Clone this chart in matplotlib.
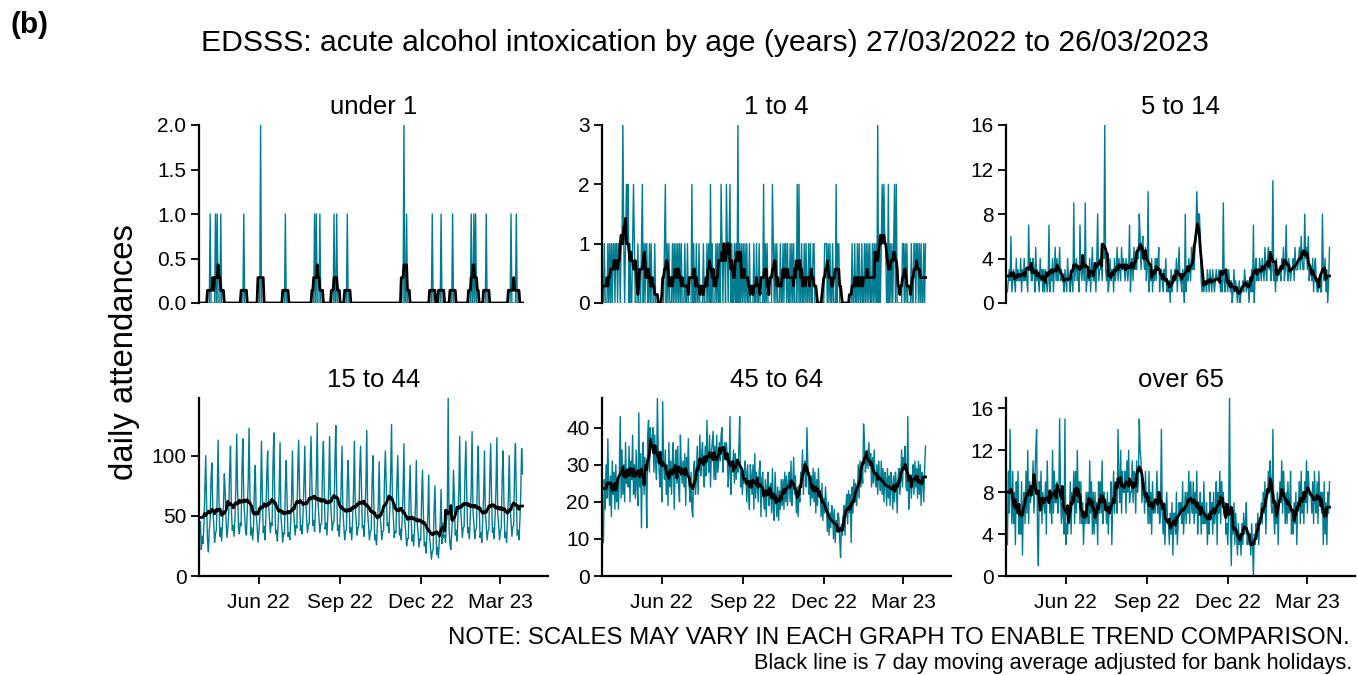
import matplotlib
matplotlib.use("Agg")
import matplotlib.pyplot as plt
import matplotlib.dates as mdates
from matplotlib.ticker import FixedLocator, FormatStrFormatter
import numpy as np
import pandas as pd

plt.rcParams['font.family'] = ['Liberation Sans', 'DejaVu Sans']

dates = pd.date_range("2022-03-27", "2023-03-26", freq="D")   # 365 days, Sun to Sun

# under 1: day number (0 = 27/03/2022) of each non-zero day, and its count
under_1_days = [11, 17, 19, 23, 49, 68, 96, 129, 131, 135, 151, 154, 166,
                230, 233, 262, 272, 285, 306, 309, 311, 323, 351, 357]
under_1_counts = [1, 1, 1, 1, 1, 2, 1, 1, 1, 1, 1, 1, 1,
                  2, 1, 1, 1, 1, 1, 1, 1, 1, 1, 1]

# 1 to 4: one digit per day, one string per week (Sun..Sat)
age_1_4 = ["0100010", "1010110", "1101101", "1310121", "2010012", "1000100",
           "0120101", "1001010", "0010000", "0000001", "2010100", "0101010",
           "1010100", "0100100", "0020100", "1001000", "0100010", "1020100",
           "0101010", "2101102", "1012010", "0101030", "1010101", "0100100",
           "0010010", "0100002", "0101000", "0021010", "1000100", "1011010",
           "0101010", "0020200", "1001010", "0101001", "1000000", "0000011",
           "1010100", "1000201", "1000000", "0000000", "0100100", "1010010",
           "0101010", "1001010", "1030101", "2121100", "2010101", "2020000",
           "0011010", "1000010", "0110110", "1010010", "1"]

# 5 to 14, weekly rows Sun..Sat
age_5_14 = [
    [1, 2, 3, 2, 6, 1, 2], [3, 2, 1, 4, 2, 3, 2], [2, 4, 1, 3, 2, 4, 2],
    [3, 2, 1, 7, 3, 4, 2], [2, 4, 3, 1, 5, 2, 3], [2, 1, 4, 2, 3, 1, 3],
    [1, 3, 2, 1, 2, 7, 1], [3, 2, 4, 1, 3, 5, 2], [4, 2, 3, 5, 2, 3, 2],
    [2, 1, 3, 2, 1, 4, 2], [2, 1, 3, 2, 1, 9, 2], [3, 4, 2, 3, 1, 7, 3],
    [2, 3, 4, 2, 9, 1, 2], [3, 2, 4, 1, 3, 5, 2], [2, 3, 1, 4, 8, 2, 3],
    [3, 4, 2, 5, 4, 16, 3], [2, 3, 1, 2, 4, 2, 3], [3, 1, 4, 2, 3, 5, 2],
    [4, 3, 2, 5, 3, 4, 3], [2, 4, 3, 2, 3, 7, 1], [3, 4, 2, 5, 3, 4, 3],
    [5, 4, 8, 6, 3, 5, 6], [4, 3, 5, 2, 3, 10, 1], [3, 2, 4, 1, 3, 2, 4],
    [2, 4, 3, 5, 1, 3, 3], [2, 1, 3, 2, 4, 1, 2], [1, 2, 0, 3, 1, 2, 2],
    [3, 2, 4, 1, 3, 5, 2], [2, 1, 3, 2, 0, 8, 1], [3, 2, 4, 3, 2, 5, 3],
    [4, 3, 5, 6, 10, 7, 8], [8, 6, 2, 1, 2, 1, 2], [2, 1, 3, 2, 1, 3, 2],
    [1, 3, 2, 1, 2, 3, 2], [2, 3, 2, 1, 2, 1, 9], [2, 1, 3, 2, 1, 3, 2],
    [1, 2, 0, 1, 3, 1, 2], [1, 0, 1, 2, 0, 1, 1], [2, 1, 3, 2, 1, 2, 2],
    [0, 2, 1, 3, 1, 7, 0], [3, 4, 2, 3, 2, 4, 3], [2, 4, 3, 2, 5, 3, 2],
    [4, 5, 3, 4, 2, 3, 11], [2, 3, 1, 4, 2, 3, 3], [3, 2, 4, 3, 5, 2, 3],
    [7, 3, 2, 4, 3, 2, 3], [3, 4, 2, 5, 3, 3, 3], [4, 5, 3, 6, 4, 3, 3],
    [8, 4, 5, 3, 6, 2, 3], [3, 2, 4, 1, 3, 4, 2], [1, 1, 2, 2, 1, 1, 8],
    [3, 2, 4, 1, 3, 0, 2], [5]]

# 15 to 44, weekly rows Sun..Sat
age_15_44 = [
    [45, 22, 33, 27, 44, 70, 100], [60, 30, 20, 38, 47, 82, 94],
    [55, 44, 28, 35, 38, 68, 113], [62, 33, 40, 29, 45, 58, 85],
    [70, 45, 32, 40, 52, 88, 108], [55, 38, 42, 33, 48, 72, 118],
    [72, 40, 35, 44, 42, 90, 114], [63, 50, 37, 34, 55, 79, 123],
    [66, 34, 40, 30, 40, 75, 92], [52, 42, 28, 36, 46, 64, 112],
    [68, 36, 41, 30, 50, 84, 104], [60, 48, 36, 44, 42, 92, 119],
    [65, 35, 38, 29, 47, 70, 111], [50, 40, 28, 36, 35, 76, 96],
    [60, 33, 36, 30, 45, 66, 104], [58, 46, 34, 42, 40, 88, 113],
    [72, 38, 42, 35, 52, 78, 108], [62, 48, 36, 43, 44, 90, 116],
    [76, 42, 46, 37, 55, 82, 127], [60, 48, 36, 43, 44, 92, 112],
    [70, 39, 44, 34, 51, 76, 116], [64, 50, 38, 44, 46, 95, 125],
    [72, 38, 42, 33, 50, 74, 108], [55, 42, 30, 37, 38, 78, 96],
    [62, 36, 40, 30, 47, 70, 112], [58, 46, 34, 40, 42, 86, 108],
    [72, 40, 42, 33, 52, 76, 121], [52, 42, 30, 37, 38, 78, 100],
    [58, 30, 34, 26, 42, 60, 95], [50, 42, 30, 37, 38, 80, 104],
    [76, 42, 44, 36, 56, 86, 126], [60, 50, 32, 37, 36, 76, 100],
    [64, 34, 39, 30, 48, 70, 110], [45, 37, 25, 31, 31, 68, 92],
    [56, 29, 34, 25, 40, 58, 96], [44, 36, 24, 31, 30, 66, 88],
    [50, 25, 28, 19, 36, 52, 84], [32, 24, 14, 20, 22, 53, 75],
    [42, 18, 24, 15, 31, 45, 72], [27, 44, 32, 34, 28, 45, 52],
    [148, 40, 26, 22, 36, 50, 88], [66, 34, 38, 29, 48, 70, 116],
    [56, 45, 32, 40, 41, 86, 112], [68, 36, 40, 31, 50, 72, 120],
    [55, 44, 31, 38, 40, 84, 108], [62, 32, 36, 28, 46, 66, 104],
    [52, 42, 30, 37, 39, 82, 110], [68, 36, 40, 31, 49, 74, 115],
    [52, 43, 30, 37, 40, 82, 104], [62, 32, 36, 28, 46, 66, 100],
    [58, 46, 33, 41, 42, 88, 110], [66, 34, 38, 30, 46, 68, 106], [85]]

# 45 to 64, weekly rows Sun..Sat
age_45_64 = [
    [9, 26, 18, 30, 21, 37, 24], [19, 27, 16, 31, 22, 28, 18],
    [30, 20, 26, 18, 28, 43, 21], [34, 22, 30, 20, 36, 25, 29],
    [24, 35, 20, 31, 26, 38, 22], [30, 21, 34, 24, 19, 44, 24],
    [33, 13, 30, 36, 22, 32, 26], [13, 38, 42, 28, 40, 34, 36],
    [40, 28, 38, 30, 26, 48, 34], [28, 24, 33, 20, 47, 30, 26],
    [34, 22, 30, 19, 36, 24, 31], [22, 32, 36, 18, 29, 34, 25],
    [35, 24, 20, 38, 30, 25, 31], [24, 33, 19, 32, 27, 37, 24],
    [20, 28, 18, 16, 30, 31, 22], [26, 35, 22, 30, 38, 27, 33],
    [36, 28, 24, 35, 27, 42, 32], [28, 38, 24, 33, 36, 39, 26],
    [35, 26, 38, 28, 30, 36, 31], [38, 40, 28, 33, 36, 32, 36],
    [32, 24, 28, 43, 22, 31, 28], [34, 25, 33, 26, 30, 28, 34],
    [43, 24, 28, 22, 27, 25, 31], [28, 20, 30, 22, 18, 30, 27],
    [22, 30, 18, 33, 21, 28, 24], [20, 28, 31, 16, 26, 28, 21],
    [18, 26, 16, 24, 28, 19, 24], [25, 17, 29, 18, 15, 28, 22],
    [16, 24, 15, 23, 18, 26, 19], [26, 18, 28, 20, 27, 19, 25],
    [28, 20, 31, 19, 25, 32, 22], [27, 17, 24, 16, 22, 20, 28],
    [26, 34, 22, 30, 31, 24, 40], [30, 22, 28, 19, 27, 21, 29],
    [20, 28, 17, 26, 19, 29, 22], [23, 16, 25, 15, 21, 17, 24],
    [19, 12, 20, 11, 17, 13, 19], [17, 10, 18, 9, 15, 12, 17],
    [16, 10, 5, 14, 11, 16, 19], [11, 19, 22, 14, 23, 17, 22],
    [9, 24, 17, 26, 20, 25, 19], [22, 30, 21, 31, 24, 29, 25],
    [41, 36, 28, 30, 34, 29, 36], [30, 33, 24, 32, 25, 34, 26],
    [24, 30, 22, 31, 26, 23, 31], [22, 29, 20, 28, 26, 19, 29],
    [21, 27, 19, 28, 25, 18, 27], [20, 28, 25, 17, 27, 29, 22],
    [26, 34, 24, 32, 30, 35, 24], [23, 43, 18, 24, 27, 21, 26],
    [30, 22, 31, 24, 29, 21, 31], [22, 30, 19, 28, 26, 20, 29], [35]]

# over 65, weekly rows Sun..Sat
age_65_plus = [
    [3, 10, 6, 14, 8, 5, 10], [5, 8, 3, 9, 6, 10, 4], [6, 4, 9, 2, 7, 8, 5],
    [10, 6, 12, 5, 9, 7, 8], [8, 11, 6, 9, 12, 14, 4], [1, 9, 7, 10, 5, 8, 7],
    [6, 9, 4, 11, 7, 8, 6], [8, 5, 12, 6, 10, 7, 7], [9, 6, 7, 15, 8, 5, 7],
    [6, 4, 15, 3, 5, 4, 6], [5, 9, 4, 8, 7, 10, 5], [10, 6, 12, 7, 9, 5, 9],
    [5, 7, 3, 6, 5, 8, 5], [8, 5, 11, 6, 9, 4, 8], [4, 8, 5, 7, 3, 9, 6],
    [9, 6, 11, 5, 8, 7, 7], [5, 8, 4, 7, 6, 9, 3], [7, 10, 6, 9, 8, 6, 14],
    [9, 7, 12, 6, 10, 8, 8], [10, 6, 11, 8, 12, 7, 8], [8, 11, 7, 10, 9, 6, 11],
    [8, 9, 15, 12, 11, 7, 8], [9, 6, 10, 7, 8, 5, 10], [5, 8, 4, 9, 6, 7, 6],
    [7, 10, 6, 8, 5, 6, 14], [6, 4, 7, 3, 6, 8, 5], [5, 3, 6, 4, 7, 2, 6],
    [6, 4, 8, 3, 5, 7, 6], [7, 5, 9, 4, 6, 8, 5], [8, 6, 10, 5, 9, 7, 6],
    [9, 5, 8, 6, 10, 4, 7], [6, 8, 4, 7, 5, 9, 5], [5, 7, 3, 6, 4, 8, 6],
    [7, 4, 8, 5, 6, 9, 3], [8, 6, 10, 5, 9, 7, 8], [6, 7, 4, 5, 3, 6, 17],
    [5, 1, 6, 4, 7, 3, 6], [4, 2, 5, 3, 4, 2, 5], [3, 6, 4, 5, 7, 3, 4],
    [3, 4, 2, 5, 3, 0, 4], [3, 5, 4, 6, 3, 5, 5], [7, 5, 8, 6, 9, 4, 7],
    [8, 10, 9, 11, 7, 6, 14], [6, 4, 7, 5, 8, 3, 7], [9, 7, 11, 6, 10, 8, 5],
    [8, 5, 9, 6, 7, 10, 4], [6, 4, 7, 5, 8, 3, 7], [7, 9, 5, 10, 6, 8, 5],
    [9, 7, 11, 6, 10, 8, 8], [8, 6, 9, 5, 10, 7, 6], [9, 5, 10, 7, 8, 6, 8],
    [3, 9, 4, 7, 3, 8, 6], [9]]

panel_titles = ["under 1", "1 to 4", "5 to 14", "15 to 44", "45 to 64", "over 65"]
y_ticks = [[0, 0.5, 1, 1.5, 2], [0, 1, 2, 3], [0, 4, 8, 12, 16],
           [0, 50, 100], [0, 10, 20, 30, 40], [0, 4, 8, 12, 16]]
x_tick_dates = ["2022-06-01", "2022-09-01", "2022-12-01", "2023-03-01"]


def flat(weeks):
    return [v for w in weeks for v in w]


u1 = np.zeros(len(dates))
u1[under_1_days] = under_1_counts
series = [u1,
          np.array([int(c) for c in "".join(age_1_4)], dtype=float),
          np.array(flat(age_5_14), dtype=float),
          np.array(flat(age_15_44), dtype=float),
          np.array(flat(age_45_64), dtype=float),
          np.array(flat(age_65_plus), dtype=float)]

teal = "#007C91"
W, H = 1357, 675
fig = plt.figure(figsize=(W / 100, H / 100), dpi=100)

col_left = [199, 602, 1006]
ax_w = 349
row_top = [125, 398]
ax_h = 178
x_lo = dates[0] - pd.Timedelta(days=1.6)
x_hi = dates[0] + pd.Timedelta(days=392.8)

for i, vals in enumerate(series):
    r, c = divmod(i, 3)
    ax = fig.add_axes([col_left[c] / W, 1 - (row_top[r] + ax_h) / H, ax_w / W, ax_h / H])
    # centred 7 day mean, ends held at the nearest full window
    ma = pd.Series(vals).rolling(7, center=True).mean().bfill().ffill()
    ax.plot(dates, vals, color=teal, lw=1.0)
    ax.plot(dates, ma, color="black", lw=2.0)
    ax.set_xlim(x_lo, x_hi)
    ax.set_ylim(0, vals.max())
    ax.yaxis.set_major_locator(FixedLocator(y_ticks[i]))
    if i == 0:
        ax.yaxis.set_major_formatter(FormatStrFormatter('%.1f'))
    for s in ["top", "right"]:
        ax.spines[s].set_visible(False)
    ax.spines["left"].set_linewidth(1.6)
    ax.spines["bottom"].set_linewidth(1.6)
    ax.tick_params(axis="both", labelsize=15, length=6, width=1.3, pad=3, colors="black")
    ax.tick_params(axis="x", pad=6)
    if r == 0:
        ax.spines["bottom"].set_visible(False)
        ax.set_xticks([])
    else:
        ax.set_xticks(pd.to_datetime(x_tick_dates))
        ax.xaxis.set_major_formatter(mdates.DateFormatter("%b %y"))
    ax.set_title(panel_titles[i], fontsize=18.5, pad=8)

fig.text(10 / W, 1 - 25 / H, "(b)", fontsize=21.5, fontweight="bold", ha="left", va="center")
fig.text(705 / W, 1 - 43 / H,
         "EDSSS: acute alcohol intoxication by age (years) 27/03/2022 to 26/03/2023",
         fontsize=21.7, ha="center", va="center")
fig.text(125 / W, 1 - 352 / H, "daily attendances", fontsize=23.7, rotation=90,
         ha="center", va="center")
fig.text(1350 / W, 1 - 638 / H,
         "NOTE: SCALES MAY VARY IN EACH GRAPH TO ENABLE TREND COMPARISON.",
         fontsize=17.3, ha="right", va="center")
fig.text(1352 / W, 1 - 664 / H,
         "Black line is 7 day moving average adjusted for bank holidays.",
         fontsize=15.7, ha="right", va="center")

fig.savefig("out.png", dpi=100)
